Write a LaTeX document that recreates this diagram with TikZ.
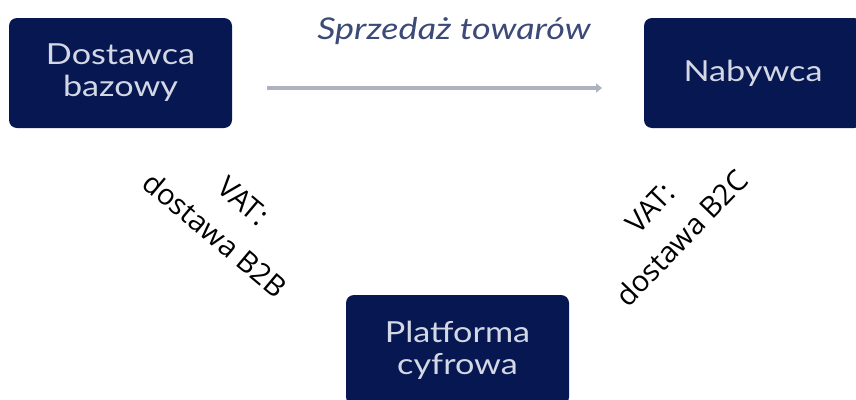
\documentclass[tikz,border=0pt]{standalone}
\usepackage{fontspec}
\setmainfont{Lato}
\newfontfamily\boxfont[FakeStretch=1.18]{Lato}
\newfontfamily\salefont[FakeStretch=1.2]{Lato}
\newfontfamily\labelfont{Open Sans}
\usetikzlibrary{arrows.meta}
\definecolor{navy}{HTML}{061752}
\definecolor{boxtext}{HTML}{D4D8E4}
\definecolor{arrowgray}{HTML}{AEB2C0}
\definecolor{saletext}{HTML}{3C4A78}
\tikzset{
  party/.style={draw=none, fill=navy, rounded corners=8pt, minimum width=223pt,
    minimum height=110pt, inner sep=0pt, align=center, text=boxtext,
    font=\boxfont\fontsize{29pt}{32pt}\selectfont},
  vatlabel/.style={align=center, text=black, inner sep=0pt,
    font=\labelfont\fontsize{29pt}{44pt}\selectfont},
  flow/.style={draw=arrowgray, line width=4pt, -{Triangle[length=6pt,width=9pt]}}
}
\begin{document}
\begin{tikzpicture}[x=1pt, y=-1pt]
\useasboundingbox (0,0) rectangle (856,399);
\clip (0,0) rectangle (856,399);
\node[party] (dost) at (120.5,73) {Dostawca\\bazowy};
\node[party, minimum width=218pt] (nab) at (753,73) {Nabywca};
\node[party] (plat) at (457.5,350) {Platforma\\cyfrowa};
\coordinate (a1) at (267,88);
\coordinate (a2) at (602,88);
\draw[flow] (a1) -- (a2);
\node[text=saletext, font=\salefont\itshape\fontsize{30pt}{34pt}\selectfont, inner sep=0pt] (sale) at (454,31) {Sprzedaż towarów};
\node[vatlabel, rotate=-40] (vat1) at (229,218) {VAT:\\dostawa B2B};
\node[vatlabel, rotate=46] (vat2) at (666,223) {VAT:\\dostawa B2C};
\end{tikzpicture}
\end{document}
